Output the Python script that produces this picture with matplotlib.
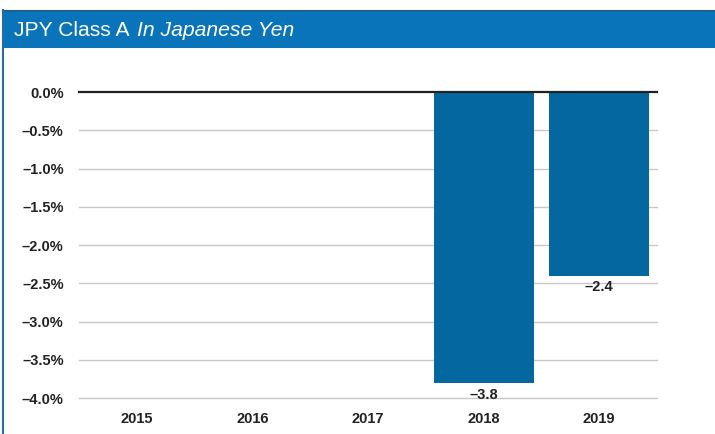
import matplotlib
matplotlib.use("Agg")
import matplotlib.pyplot as plt
from matplotlib.patches import Rectangle
from matplotlib.lines import Line2D

years = ["2015", "2016", "2017", "2018", "2019"]
values = [None, None, None, -3.8, -2.4]
yticks = [0.0, -0.5, -1.0, -1.5, -2.0, -2.5, -3.0, -3.5, -4.0]
ytick_labels = ["0.0%", "\u20130.5%", "\u20131.0%", "\u20131.5%", "\u20132.0%",
                "\u20132.5%", "\u20133.0%", "\u20133.5%", "\u20134.0%"]

plt.rcParams['font.family'] = ['Liberation Sans', 'DejaVu Sans']

W, H = 715, 434
fig = plt.figure(figsize=(W / 100, H / 100), dpi=100)

# Title bar
fig.patches.append(Rectangle((3 / W, 1 - 48 / H), 1 - 3 / W, 38 / H,
                             transform=fig.transFigure, facecolor="#0a74bb",
                             edgecolor="none", zorder=0))
fig.lines.append(Line2D([3 / W, 1], [1 - 10.5 / H, 1 - 10.5 / H],
                        transform=fig.transFigure, color="#1a5f94", lw=1.5))
fig.lines.append(Line2D([2.5 / W, 2.5 / W], [0, 1 - 10 / H],
                        transform=fig.transFigure, color="#2b6aa0", lw=1.5))
t1 = fig.text(14 / W, 1 - 31 / H, "JPY Class A", color="white", fontsize=15.2,
              va="center", ha="left")
fig.canvas.draw()
bb = t1.get_window_extent()
fig.text((bb.x1 + 7) / W, 1 - 31 / H, "In Japanese Yen", color="white",
         fontsize=15.2, style="italic", va="center", ha="left")

# Axes: x from 79 to 657 px, y: 0 at 92 px, -4 at 398 px
ax = fig.add_axes([79 / W, 1 - 398 / H, (657 - 79) / W, (398 - 92) / H])
ax.set_xlim(-0.5, 4.5)
ax.set_ylim(-4.0, 0.0)

for s in ax.spines.values():
    s.set_visible(False)

for t in yticks:
    if t == 0:
        ax.axhline(t, color="#222222", lw=1.6, zorder=3, clip_on=False)
    else:
        ax.axhline(t, color="#c8c8c8", lw=1.0, zorder=1, clip_on=False)

xs = list(range(len(years)))
for x, v in zip(xs, values):
    if v is not None:
        ax.bar(x, v, width=0.865, color="#04679f", zorder=2)
        ax.annotate("\u2013" + f"{abs(v):.1f}", (x, v), xytext=(0, -3.5),
                    textcoords="offset points", ha="center", va="top",
                    fontsize=10.5, fontweight="bold", color="#222222", zorder=4)

ax.set_yticks(yticks)
ax.set_yticklabels(ytick_labels, fontsize=10.5, fontweight="bold", color="#222222")
ax.set_xticks(xs)
ax.set_xticklabels(years, fontsize=10.5, fontweight="bold", color="#222222")
ax.tick_params(axis="both", length=0)
ax.tick_params(axis="y", pad=11)
ax.tick_params(axis="x", pad=10)

fig.savefig("out.png", dpi=100)
